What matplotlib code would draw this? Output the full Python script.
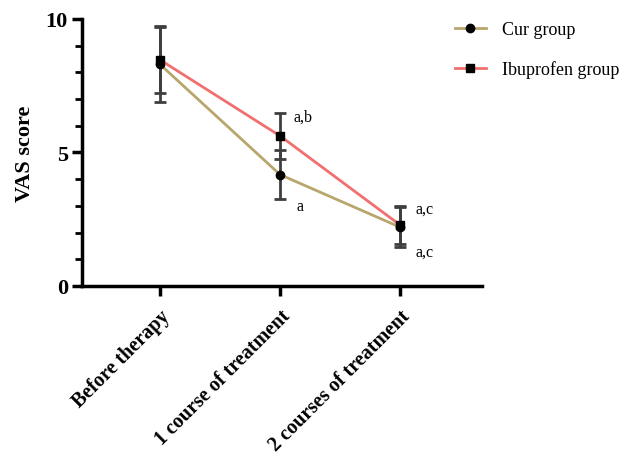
import matplotlib
matplotlib.use("Agg")
import matplotlib.pyplot as plt
from matplotlib.lines import Line2D
from matplotlib.ticker import MultipleLocator

# data
stages = ["Before therapy", "1 course of treatment", "2 courses of treatment"]
cur_mean = [8.3, 4.17, 2.2]
cur_err = [1.4, 0.92, 0.75]
ibu_mean = [8.47, 5.62, 2.28]
ibu_err = [1.25, 0.86, 0.72]
notes = ["a", "a,b", "a,c", "a,c"]
note_x = [1.14, 1.11, 2.125, 2.125]
note_y = [3.0, 6.33, 2.88, 1.27]

cur_color = '#b8a66c'
ibu_color = '#f26f6f'
bar_color = '#3f3f3f'

plt.rcParams['font.family'] = ['Liberation Serif', 'DejaVu Serif']

fig = plt.figure(figsize=(6.25, 4.64), dpi=100)
ax = fig.add_axes([0.131, 0.3815, 0.64, 0.5755])
x = list(range(len(stages)))

ax.errorbar(x, cur_mean, yerr=cur_err, color=cur_color, lw=2, marker='o', ms=6,
            mfc='black', mec='black', ecolor=bar_color, elinewidth=2, capsize=4,
            capthick=2, zorder=3)
ax.errorbar(x, ibu_mean, yerr=ibu_err, color=ibu_color, lw=2, marker='s', ms=6,
            mfc='black', mec='black', ecolor=bar_color, elinewidth=2, capsize=4,
            capthick=2, zorder=3)

# significance letters
for t, nx, ny in zip(notes, note_x, note_y):
    ax.text(nx, ny, t, fontsize=11.5, ha='left', va='center')

ax.set_xlim(-0.65, 2.68)
ax.set_ylim(0, 10)
ax.yaxis.set_major_locator(MultipleLocator(5))
ax.yaxis.set_minor_locator(MultipleLocator(1))
ax.set_xticks(x)
ax.set_xticklabels(stages, rotation=45, ha='right', rotation_mode='anchor',
                   fontsize=14.5, fontweight='bold')
for lab in ax.get_yticklabels():
    lab.set_fontweight('bold')
    lab.set_fontsize(16)
ax.set_ylabel('VAS score', fontsize=16, fontweight='bold', labelpad=8)

for s in ['top', 'right']:
    ax.spines[s].set_visible(False)
for s in ['left', 'bottom']:
    ax.spines[s].set_linewidth(2.5)
ax.tick_params(axis='both', which='major', width=2.5, length=7)
ax.tick_params(axis='y', which='minor', width=2, length=5)
ax.tick_params(axis='x', pad=7)
ax.tick_params(axis='y', pad=3)

handles = [
    Line2D([], [], color=cur_color, lw=2, marker='o', ms=6, mfc='black', mec='black'),
    Line2D([], [], color=ibu_color, lw=2, marker='s', ms=6, mfc='black', mec='black'),
]
fig.legend(handles, ['Cur group', 'Ibuprofen group'], loc='upper left',
           bbox_to_anchor=(455 / 625, 1 - 22 / 464), frameon=False, fontsize=13,
           handlelength=1.7, handletextpad=0.9, labelspacing=1.25,
           borderpad=0, borderaxespad=0)

plt.savefig('out.png', dpi=100)
